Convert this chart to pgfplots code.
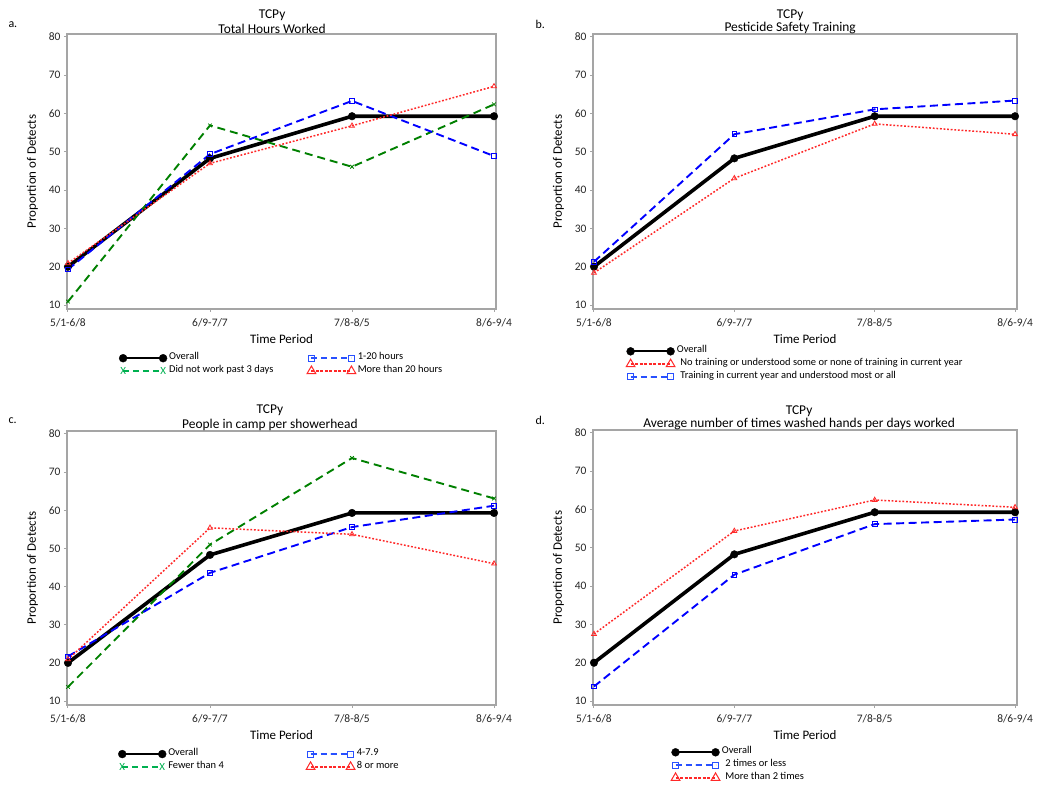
\documentclass[border=0pt]{standalone}
\usepackage{fontspec}
\setmainfont{Carlito}
\usepackage{pgfplots}
\pgfplotsset{compat=1.18}
\definecolor{axgray}{RGB}{165,165,165}
\definecolor{pblue}{RGB}{0,0,255}
\definecolor{pgreen}{RGB}{0,128,0}
\definecolor{pred}{RGB}{255,40,40}
\definecolor{legreen}{RGB}{0,176,80}
\definecolor{leblue}{RGB}{40,80,255}

\pgfplotsset{
  panel/.style={
    scale only axis, anchor=south west, clip=false,
    xmin=-0.007, xmax=3.014, ymin=8.96, ymax=80.78,
    xtick={0,1,2,3}, xticklabels={5/1-6/8,6/9-7/7,7/8-8/5,8/6-9/4},
    ytick={10,20,...,80},
    axis line style={axgray, line width=1.3bp},
    tick style={axgray, line width=1bp},
    tick align=outside, major tick length=3bp, tick pos=left,
    ticklabel style={font=\fontsize{11.5}{13}\selectfont, text=black!85},
    xticklabel style={yshift=-3.5bp},
    /pgf/number format/assume math mode=true,
    xlabel={Time Period}, ylabel={Proportion of Detects},
    label style={font=\fontsize{13}{15}\selectfont},
    ylabel style={yshift=4bp},
    title style={font=\fontsize{13.5}{15.5}\selectfont, align=center, anchor=south, inner sep=0pt, yshift=-6bp},
    legend cell align=left,
    legend style={draw=none, fill=none, inner sep=0pt, row sep=0pt, column sep=0pt,
      nodes={inner xsep=2bp, inner ysep=0pt, text height=8bp, text depth=4.8bp, font=\fontsize{10.5}{12}\selectfont}},
    legend image code/.code={\draw[mark repeat=2,mark phase=1,#1] plot coordinates {(0bp,0bp) (20bp,0bp) (40bp,0bp)};},
  },
  st overall/.style={black, line width=3.6bp, mark=*, mark size=3.8bp, mark options={solid, line width=0.4bp}},
  st blue/.style={pblue, line width=1.9bp, dash pattern=on 8bp off 4.5bp, mark=square, mark size=2.4bp, mark options={solid, line width=0.8bp}},
  st green/.style={pgreen, line width=1.9bp, dash pattern=on 8bp off 5bp, mark=x, mark size=2.6bp, mark options={solid, line width=0.8bp}},
  st red/.style={pred, line width=1.5bp, dash pattern=on 1.8bp off 1.8bp, mark=triangle, mark size=2.8bp, mark options={solid, line width=0.8bp}},
  lg overall/.style={black, line width=2.3bp, mark=*, mark size=4bp, mark options={solid, line width=0.3bp}},
  lg blue/.style={leblue, line width=1.8bp, dash pattern=on 6bp off 4bp, mark=square, mark size=3bp, mark options={solid, line width=0.9bp}},
  lg red/.style={pred, line width=1.8bp, dash pattern=on 3bp off 1.5bp, mark=triangle, mark size=5bp, mark options={solid, line width=1bp}},
  lg green/.style={legreen, line width=1.6bp, dash pattern=on 6bp off 4bp, mark=text, text mark={\fontsize{11}{12}\selectfont\textcolor{legreen}{X}}, mark options={solid}},
}

\begin{document}
\begin{tikzpicture}
\useasboundingbox (0bp,0bp) rectangle (1050bp,786bp);
\node[anchor=west, font=\fontsize{12}{14}\selectfont] at (5bp,761bp) {a.};
\node[anchor=west, font=\fontsize{12}{14}\selectfont] at (532bp,762bp) {b.};
\node[anchor=west, font=\fontsize{12}{14}\selectfont] at (5bp,365bp) {c.};
\node[anchor=west, font=\fontsize{12}{14}\selectfont] at (532bp,366bp) {d.};

% ---------- a ----------
\begin{axis}[panel, at={(67bp,477bp)}, width=429bp, height=275bp,
  title={TCPy\\Total Hours Worked}, title style={at={(axis description cs:0.478,1)}},
  legend columns=2, transpose legend,
  legend style={at={(axis description cs:0.121,-0.155)}, anchor=north west}]
\addplot[st overall, forget plot] coordinates {(0,20) (1,48.3) (2,59.3) (3,59.3)};
\addplot[st green, forget plot] coordinates {(0,10.9) (1,56.9) (2,46.1) (3,62.4)};
\addplot[st blue, forget plot] coordinates {(0,19.3) (1,49.4) (2,63.3) (3,48.9)};
\addplot[st red, forget plot] coordinates {(0,20.9) (1,47.0) (2,56.8) (3,67.1)};
\addlegendimage{lg overall}\addlegendentry{\makebox[136bp][l]{Overall}}
\addlegendimage{lg green}\addlegendentry{\makebox[136bp][l]{Did not work past 3 days}}
\addlegendimage{lg blue}\addlegendentry{1-20 hours}
\addlegendimage{lg red}\addlegendentry{More than 20 hours}
\end{axis}

% ---------- b ----------
\begin{axis}[panel, at={(593bp,477bp)}, width=424bp, height=275bp,
  title={TCPy\\[-2bp]Pesticide Safety Training}, title style={at={(axis description cs:0.465,1)}},
  legend style={at={(axis description cs:0.078,-0.130)}, anchor=north west}]
\addplot[st overall, forget plot] coordinates {(0,20) (1,48.3) (2,59.3) (3,59.3)};
\addplot[st blue, forget plot] coordinates {(0,21.3) (1,54.6) (2,61.1) (3,63.4)};
\addplot[st red, forget plot] coordinates {(0,18.4) (1,43.1) (2,57.3) (3,54.6)};
\addlegendimage{lg overall}\addlegendentry{Overall}
\addlegendimage{lg red}\addlegendentry{\hspace{3.5bp}No training or understood some or none of training in current year}
\addlegendimage{lg blue}\addlegendentry{\hspace{3.5bp}Training in current year and understood most or all}
\end{axis}

% ---------- c ----------
\begin{axis}[panel, at={(67bp,81bp)}, width=429bp, height=274bp,
  title={TCPy\\People in camp per showerhead}, title style={at={(axis description cs:0.473,1)}},
  legend columns=2, transpose legend,
  legend style={at={(axis description cs:0.119,-0.155)}, anchor=north west}]
\addplot[st overall, forget plot] coordinates {(0,20) (1,48.3) (2,59.3) (3,59.3)};
\addplot[st green, forget plot] coordinates {(0,13.7) (1,51.0) (2,73.7) (3,63.1)};
\addplot[st blue, forget plot] coordinates {(0,21.7) (1,43.6) (2,55.6) (3,61.2)};
\addplot[st red, forget plot] coordinates {(0,20.9) (1,55.4) (2,53.7) (3,46.0)};
\addlegendimage{lg overall}\addlegendentry{\makebox[136bp][l]{Overall}}
\addlegendimage{lg green}\addlegendentry{\makebox[136bp][l]{Fewer than 4}}
\addlegendimage{lg blue}\addlegendentry{4-7.9}
\addlegendimage{lg red}\addlegendentry{8 or more}
\end{axis}

% ---------- d ----------
\begin{axis}[panel, at={(593bp,81bp)}, width=424bp, height=275bp,
  title={TCPy\\[-2bp]Average number of times washed hands per days worked}, title style={at={(axis description cs:0.486,1)}},
  legend style={at={(axis description cs:0.184,-0.148)}, anchor=north west}]
\addplot[st overall, forget plot] coordinates {(0,20) (1,48.3) (2,59.3) (3,59.3)};
\addplot[st blue, forget plot] coordinates {(0,13.8) (1,43.0) (2,56.2) (3,57.4)};
\addplot[st red, forget plot] coordinates {(0,27.5) (1,54.4) (2,62.5) (3,60.6)};
\addlegendimage{lg overall}\addlegendentry{Overall}
\addlegendimage{lg blue}\addlegendentry{\hspace{3.5bp}2 times or less}
\addlegendimage{lg red}\addlegendentry{\hspace{3.5bp}More than 2 times}
\end{axis}
\end{tikzpicture}
\end{document}
